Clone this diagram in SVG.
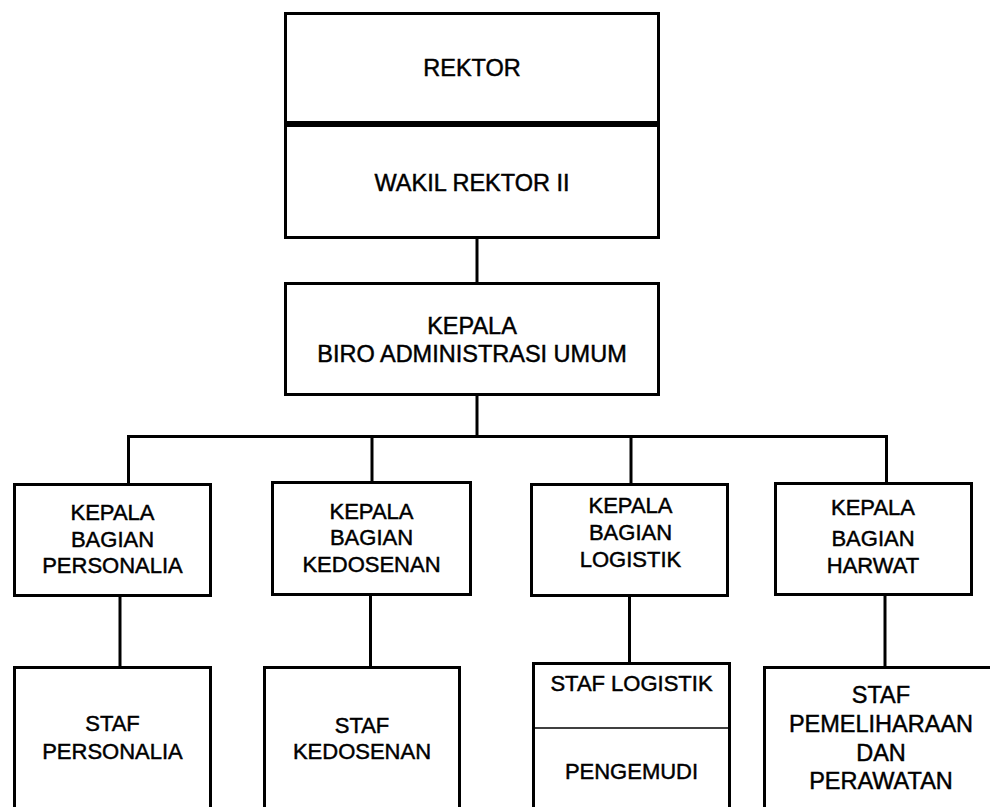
<svg xmlns="http://www.w3.org/2000/svg" width="990" height="807" viewBox="0 0 990 807">
<style>
.box{fill:#fff;stroke:#000;stroke-width:3}
.thin{stroke:#000;stroke-width:1.5;fill:none}
.conn{stroke:#000;stroke-width:3;fill:none}
text{font-family:"Liberation Sans",Arial,sans-serif;fill:#000;stroke:#000;stroke-width:0.45;text-anchor:middle}
.big{font-size:23.5px}
.sm{font-size:22px}
</style>
<rect width="990" height="807" fill="#fff"/>
<g id="connectors">
<line class="conn" x1="477" y1="238" x2="477" y2="283"/>
<line class="conn" x1="477" y1="395" x2="477" y2="437"/>
<path class="conn" d="M128.5 484 V436.5 H886.5 V484"/>
<line class="conn" x1="372" y1="436.5" x2="372" y2="482"/>
<line class="conn" x1="631" y1="436.5" x2="631" y2="484"/>
<line class="conn" x1="120" y1="596" x2="120" y2="667"/>
<line class="conn" x1="370.5" y1="595" x2="370.5" y2="667"/>
<line class="conn" x1="629.5" y1="596" x2="629.5" y2="663"/>
<line class="conn" x1="885" y1="595" x2="885" y2="667"/>
</g>
<g id="rektor">
<rect class="box" x="285.5" y="13.5" width="373" height="109"/>
<text class="big" x="472" y="75.5">REKTOR</text>
</g>
<g id="wakil-rektor-ii">
<rect class="box" x="285.5" y="125.5" width="373" height="112"/>
<text class="big" x="472" y="190.5">WAKIL REKTOR II</text>
</g>
<g id="kepala-biro">
<rect class="box" x="285.5" y="283.5" width="373" height="111"/>
<text class="big" x="472" y="333.5">KEPALA</text>
<text class="big" x="472" y="361.5">BIRO ADMINISTRASI UMUM</text>
</g>
<g id="kabag-personalia">
<rect class="box" x="14.5" y="484.5" width="196" height="111"/>
<text class="sm" x="112.5" y="520">KEPALA</text>
<text class="sm" x="112.5" y="546.5">BAGIAN</text>
<text class="sm" x="112.5" y="573">PERSONALIA</text>
</g>
<g id="kabag-kedosenan">
<rect class="box" x="272.5" y="482.5" width="198" height="112"/>
<text class="sm" x="371.5" y="519">KEPALA</text>
<text class="sm" x="371.5" y="545">BAGIAN</text>
<text class="sm" x="371.5" y="572">KEDOSENAN</text>
</g>
<g id="kabag-logistik">
<rect class="box" x="531.5" y="484.5" width="196" height="111"/>
<text class="sm" x="630.5" y="513">KEPALA</text>
<text class="sm" x="630.5" y="540">BAGIAN</text>
<text class="sm" x="630.5" y="567">LOGISTIK</text>
</g>
<g id="kabag-harwat">
<rect class="box" x="775.5" y="483.5" width="196" height="111"/>
<text class="sm" x="873" y="515">KEPALA</text>
<text class="sm" x="873" y="546">BAGIAN</text>
<text class="sm" x="873" y="573">HARWAT</text>
</g>
<g id="staf-personalia">
<rect class="box" x="14.5" y="667.5" width="196" height="160"/>
<text class="sm" x="112.5" y="731">STAF</text>
<text class="sm" x="112.5" y="759">PERSONALIA</text>
</g>
<g id="staf-kedosenan">
<rect class="box" x="264.5" y="667.5" width="195" height="160"/>
<text class="sm" x="362" y="732.5">STAF</text>
<text class="sm" x="362" y="759">KEDOSENAN</text>
</g>
<g id="staf-logistik">
<rect class="box" x="533.5" y="663.5" width="196" height="164"/>
<line class="thin" x1="533.5" y1="728" x2="729.5" y2="728"/>
<text class="sm" x="631.5" y="691">STAF LOGISTIK</text>
<text class="sm" x="631.5" y="779">PENGEMUDI</text>
</g>
<g id="staf-pemeliharaan">
<rect class="box" x="764.5" y="667.5" width="234" height="160"/>
<text class="big" x="881" y="703">STAF</text>
<text class="big" x="881" y="732">PEMELIHARAAN</text>
<text class="big" x="881" y="761">DAN</text>
<text class="big" x="881" y="789">PERAWATAN</text>
</g>
</svg>
